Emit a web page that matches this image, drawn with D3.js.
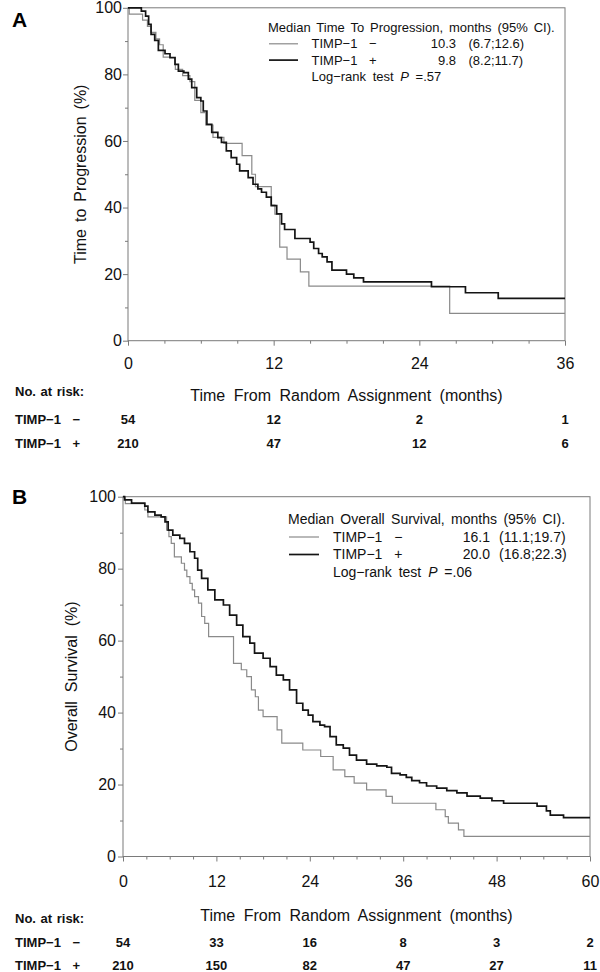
<!DOCTYPE html>
<html><head><meta charset="utf-8">
<script src="https://cdn.jsdelivr.net/npm/d3@7"></script>
<style>
html,body{margin:0;padding:0;background:#fff;}
svg{display:block;font-family:"Liberation Sans",Arial,Helvetica,sans-serif;}
</style></head><body>
<svg id="chart" width="600" height="972"></svg>
<script>
// ---------------- DATA ----------------
// Panel A: Time to progression (months, % progression-free)
const ttpNegMonths = [0, 0.1, 1.2, 1.6, 1.9, 2.3, 2.6, 2.9, 3.9, 4.5, 5.1, 5.5, 6.0, 6.4, 7.0, 7.9, 9.4, 10.2, 10.5, 11.8, 12.1, 12.5, 13.1, 14.2, 14.9, 26.5];
const ttpNegSurv   = [100, 98.1, 96.3, 94.4, 92.6, 90.7, 88.9, 85.2, 81.5, 79.6, 77.8, 72.2, 68.5, 64.8, 61.1, 59.3, 55.6, 50.0, 46.3, 40.7, 38.0, 28.1, 24.5, 20.7, 16.4, 8.2];
const ttpPosMonths = [0, 1.1, 1.45, 1.7, 1.9, 2.2, 2.5, 3.05, 3.46, 3.87, 4.15, 4.6, 4.97, 5.25, 5.66, 6.0, 6.2, 6.5, 6.9, 7.4, 7.7, 8.1, 8.5, 8.95, 9.2, 9.9, 10.3, 10.7, 11.0, 11.4, 11.8, 12.25, 12.65, 12.9, 13.75, 15.0, 15.3, 15.7, 16.0, 16.4, 16.8, 18.0, 18.6, 19.4, 25.0, 27.8, 30.5];
const ttpPosSurv   = [100, 99, 97.5, 95, 92, 90.2, 87.2, 86.2, 85, 83, 81, 80.5, 78.6, 76, 73, 72, 69, 65, 62.6, 61, 59.6, 57, 55, 53, 51, 49, 47, 45.6, 44.6, 43.1, 40.6, 38.1, 35.1, 33.4, 30.7, 29.6, 27.7, 26.2, 25.2, 23.7, 21.2, 20.0, 18.9, 17.7, 16.2, 14.4, 12.7];
const ttpFollowUpEnd = 36;

// Panel B: Overall survival
const osNegMonths = [0, 0.3, 2.8, 3.2, 5.6, 5.9, 6.2, 6.6, 7.5, 7.9, 8.2, 8.6, 8.9, 9.2, 9.7, 10.1, 10.5, 11.0, 14.2, 15.2, 15.9, 16.5, 17.0, 17.4, 18.0, 19.8, 20.4, 23.1, 25.4, 27.0, 28.5, 29.7, 31.3, 33.8, 34.6, 40.2, 41.4, 41.8, 43.1, 43.8];
const osNegSurv   = [100, 98.1, 96.3, 94.4, 90.7, 88.9, 87.0, 83.3, 81.5, 79.6, 77.8, 75.9, 74.1, 72.2, 70.4, 66.7, 64.8, 61.1, 53.7, 51.9, 50.0, 46.3, 44.4, 40.7, 38.9, 35.2, 31.5, 29.6, 27.8, 24.1, 22.2, 20.4, 18.5, 16.7, 14.8, 13.0, 11.1, 9.3, 7.4, 5.6];
const osPosMonths = [0, 0.2, 1.1, 2.8, 3.2, 4.1, 4.9, 5.4, 5.8, 6.4, 7.3, 7.9, 8.6, 9.2, 9.6, 10.1, 10.9, 11.8, 12.9, 13.7, 14.6, 15.4, 16.3, 16.9, 18.0, 18.9, 19.7, 20.6, 21.4, 22.3, 23.1, 23.8, 24.4, 25.3, 25.9, 26.6, 27.4, 28.3, 29.1, 30.0, 31.3, 32.6, 33.9, 34.5, 35.6, 36.4, 37.1, 38.1, 39.0, 40.3, 41.6, 42.9, 44.2, 45.9, 47.4, 48.9, 53.2, 54.4, 54.9, 56.6];
const osPosSurv   = [100, 99.1, 98.2, 97.4, 95.8, 94.9, 94.4, 93, 90.7, 89.3, 88.4, 87, 84.7, 82.9, 79.6, 77.3, 74.1, 71.3, 69.9, 67.1, 64.3, 61.1, 59.3, 56.5, 55.1, 52.8, 50.4, 49.1, 46.3, 42.6, 40.7, 39.3, 37.5, 36.5, 36.1, 33.3, 31.0, 30.1, 28.2, 26.8, 25.7, 25.2, 24.8, 23.1, 22.7, 22.0, 21.1, 20.5, 19.6, 19.0, 18.3, 17.7, 16.8, 16.2, 15.5, 14.8, 14.0, 12.7, 11.5, 10.8];
const osFollowUpEnd = 60;

// Ticks
const xTicksA = [0, 12, 24, 36];
const xTicksB = [0, 12, 24, 36, 48, 60];
const yTicks = [0, 20, 40, 60, 80, 100];

// Number at risk
const riskA_neg = [54, 12, 2, 1];
const riskA_pos = [210, 47, 12, 6];
const riskB_neg = [54, 33, 16, 8, 3, 2];
const riskB_pos = [210, 150, 82, 47, 27, 11];

// Legend
const groupLabels = ["TIMP\u22121 \u2212", "TIMP\u22121 +"];
const medianA = ["10.3", "9.8"];
const ciA = ["(6.7;12.6)", "(8.2;11.7)"];
const medianB = ["16.1", "20.0"];
const ciB = ["(11.1;19.7)", "(16.8;22.3)"];
const pA = ".57", pB = ".06";

// ---------------- DRAW ----------------
const svg = d3.select("#chart");
const GRAY = "#8a8a8a", BLACK = "#141414", FRAME = "#7a7a7a";

function panel(o) {
  const x = d3.scaleLinear().domain([0, o.xMax]).range([o.left, o.right]);
  const y = d3.scaleLinear().domain([0, 100]).range([o.bottom, o.top]);
  const g = svg.append("g");

  // panel letter
  g.append("text").attr("x", 12).attr("y", o.letterY).attr("font-size", 21)
    .attr("font-weight", "bold").attr("fill", "#000").text(o.letter);

  // axes
  const minorX = d3.range(0, o.xMax + 0.01, 3).filter(d => d % 12 !== 0);
  const minorY = [10, 30, 50, 70, 90];
  const xa = g.append("g").attr("transform", `translate(0,${o.bottom})`)
    .call(d3.axisBottom(x).tickValues(o.xTicks).tickSize(5).tickPadding(o.xPad).tickFormat(d3.format("d")));
  const xm = g.append("g").attr("transform", `translate(0,${o.bottom})`)
    .call(d3.axisBottom(x).tickValues(minorX).tickSize(3).tickFormat(""));
  const ya = g.append("g").attr("transform", `translate(${o.left},0)`)
    .call(d3.axisLeft(y).tickValues(yTicks).tickSize(5).tickPadding(o.yPad).tickFormat(d3.format("d")));
  const ym = g.append("g").attr("transform", `translate(${o.left},0)`)
    .call(d3.axisLeft(y).tickValues(minorY).tickSize(3).tickFormat(""));
  [xa, xm, ya, ym].forEach(a => {
    a.select(".domain").remove();
    a.selectAll(".tick line").attr("stroke", FRAME);
    a.selectAll("text").attr("font-size", 16).attr("fill", "#111")
      .attr("font-family", '"Liberation Sans",Arial,sans-serif');
  });

  // frame
  g.append("rect").attr("x", o.left).attr("y", o.top)
    .attr("width", o.right - o.left).attr("height", o.bottom - o.top)
    .attr("fill", "none").attr("stroke", FRAME).attr("stroke-width", 1);

  // axis titles
  g.append("text").attr("x", (o.left + o.right) / 2).attr("y", o.xTitleY)
    .attr("text-anchor", "middle").attr("font-size", 16).attr("word-spacing", 4)
    .attr("fill", "#111").text("Time From Random Assignment (months)");
  g.append("text").attr("transform", `translate(${o.yTitleX},${(o.top + o.bottom) / 2}) rotate(-90)`)
    .attr("text-anchor", "middle").attr("font-size", 16).attr("word-spacing", o.yTitleWS)
    .attr("fill", "#111").text(o.yTitle);

  // curves
  const line = d3.line().x(d => x(d[0])).y(d => y(d[1])).curve(d3.curveStepAfter);
  o.series.forEach(s => {
    const pts = s.t.map((t, i) => [t, s.v[i]]);
    pts.push([o.end, s.v[s.v.length - 1]]);
    g.append("path").datum(pts).attr("d", line).attr("fill", "none")
      .attr("stroke", s.color).attr("stroke-width", s.width);
  });

  // legend
  const L = o.legend;
  const lg = g.append("g").attr("font-size", L.fs).attr("fill", "#111");
  lg.append("text").attr("x", L.x0).attr("y", L.y0).attr("word-spacing", L.ws).text(L.header);
  [0, 1].forEach(i => {
    const by = L.y0 + L.dy * (i + 1);
    lg.append("line").attr("x1", L.x0 + 1).attr("x2", L.lineEnd)
      .attr("y1", by - 4.5).attr("y2", by - 4.5)
      .attr("stroke", o.series[i].color).attr("stroke-width", o.series[i].width);
    lg.append("text").attr("x", L.x1).attr("y", by).attr("word-spacing", 8).text(groupLabels[i]);
    lg.append("text").attr("x", L.xMed).attr("y", by).attr("text-anchor", "end").text(L.med[i]);
    lg.append("text").attr("x", L.xCi).attr("y", by).text(L.ci[i]);
  });
  const lr = lg.append("text").attr("x", L.x1).attr("y", L.y0 + L.dy * 3).attr("word-spacing", 3);
  lr.append("tspan").text("Log\u2212rank test ");
  lr.append("tspan").attr("font-style", "italic").text("P");
  lr.append("tspan").text(" =" + L.p);

  // at-risk table
  const tg = g.append("g").attr("font-size", 13).attr("font-weight", "bold").attr("fill", "#111");
  tg.append("text").attr("x", 15).attr("y", o.riskHeadY).attr("word-spacing", 1).text("No. at risk:");
  [o.riskNeg, o.riskPos].forEach((arr, i) => {
    const ry = o.riskY[i];
    tg.append("text").attr("x", 15).attr("y", ry).attr("word-spacing", 8).text(groupLabels[i]);
    tg.selectAll(null).data(arr).enter().append("text")
      .attr("x", (d, j) => x(o.xTicks[j])).attr("y", ry)
      .attr("text-anchor", "middle").text(d => d);
  });
}

panel({
  letter: "A", letterY: 27,
  left: 128, right: 565, top: 7.8, bottom: 340.7, xMax: 36, end: ttpFollowUpEnd,
  xTicks: xTicksA, xPad: 12, yPad: 1,
  xTitleY: 401, yTitleX: 86, yTitle: "Time to Progression (%)", yTitleWS: 2.5,
  series: [
    { t: ttpNegMonths, v: ttpNegSurv, color: GRAY, width: 1.2 },
    { t: ttpPosMonths, v: ttpPosSurv, color: BLACK, width: 1.7 }
  ],
  legend: { fs: 13, ws: 2.3, x0: 268, y0: 32, dy: 16.3, lineEnd: 298, x1: 311.5, xMed: 456, xCi: 468.5,
            header: "Median Time To Progression, months (95% CI).", med: medianA, ci: ciA, p: pA },
  riskHeadY: 396, riskY: [424, 448], riskNeg: riskA_neg, riskPos: riskA_pos
});

panel({
  letter: "B", letterY: 504,
  left: 123, right: 590, top: 496.7, bottom: 856.5, xMax: 60, end: osFollowUpEnd,
  xTicks: xTicksB, xPad: 14, yPad: 2,
  xTitleY: 921, yTitleX: 76.5, yTitle: "Overall Survival (%)", yTitleWS: 4.5,
  series: [
    { t: osNegMonths, v: osNegSurv, color: GRAY, width: 1.2 },
    { t: osPosMonths, v: osPosSurv, color: BLACK, width: 1.7 }
  ],
  legend: { fs: 14, ws: 2.5, x0: 288, y0: 524, dy: 17.5, lineEnd: 319, x1: 333, xMed: 490, xCi: 499,
            header: "Median Overall Survival, months (95% CI).", med: medianB, ci: ciB, p: pB },
  riskHeadY: 923, riskY: [947, 970], riskNeg: riskB_neg, riskPos: riskB_pos
});
</script>
</body></html>
